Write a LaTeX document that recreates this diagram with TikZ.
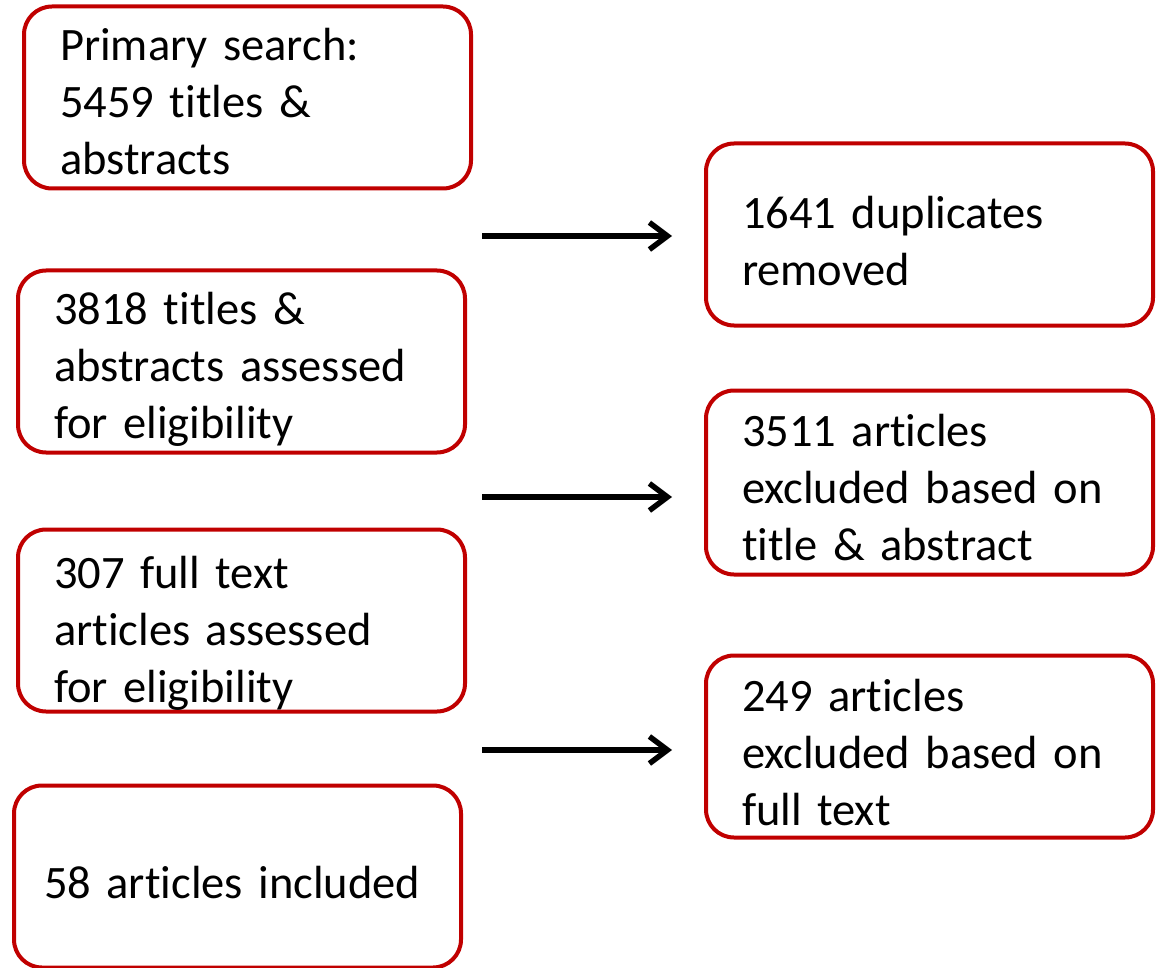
\documentclass[tikz,border=0pt]{standalone}
\usepackage{fontspec}
\setmainfont[Ligatures=NoCommon]{Carlito}
\usepackage{xcolor}
\usepackage{tikz}
\usetikzlibrary{arrows.meta}
\usetikzlibrary{positioning}
\definecolor{boxred}{RGB}{192,0,0}
\tikzstyle{stagebox} = [rectangle, draw=boxred, line width=4pt, rounded corners=28pt,
    text width=375pt, align=left, minimum width=447pt, minimum height=182pt,
    inner xsep=36pt, inner ysep=0pt, font=\fontsize{46.5}{57}\selectfont]
\tikzstyle{line} = [draw, -{Straight Barb[length=18pt,width=27pt]}, line width=5.5pt]
\tikzset{textdown/.style={execute at begin node={\rule{0pt}{\dimexpr 35pt+#1\relax}}}}

\begin{document}
\begin{tikzpicture}[x=1pt, y=-1pt, node distance = 78pt, auto]
    \useasboundingbox (0,0) rectangle (1159,968);
    % Place nodes
    \node [stagebox, textdown=6pt] (search) at (247.5,97.5) {Primary search:\\ 5459 titles \&\\ abstracts};
    \node [stagebox, textdown=12pt, below=78pt of search, xshift=-6pt] (screen) {3818 titles \&\\ abstracts assessed\\ for eligibility};
    \node [stagebox, textdown=22pt, below=73pt of screen] (fulltext) {307 full text\\ articles assessed\\ for eligibility};
    \node [stagebox, textdown=10pt, below=70pt of fulltext, xshift=-4pt, text width=387pt, inner xsep=30pt] (incl) {58 articles included};
    \node [stagebox, textdown=10pt, below right=-49pt and 231pt of search] (dupl) {1641 duplicates\\ removed};
    \node [stagebox, textdown=8pt, below=61pt of dupl, minimum height=184pt] (exclta) {3511 articles\\ excluded based on\\ title \& abstract};
    \node [stagebox, textdown=10pt, below=77pt of exclta] (exclft) {249 articles\\ excluded based on\\ full text};
    % Arrow ends
    \coordinate (a1) at (482,236);
    \coordinate (b1) at (672,236);
    \coordinate (a2) at (482,497);
    \coordinate (b2) at (672,497);
    \coordinate (a3) at (482,750);
    \coordinate (b3) at (672,750);
    % Draw edges
    \path [line] (a1) -- (b1);
    \path [line] (a2) -- (b2);
    \path [line] (a3) -- (b3);
\end{tikzpicture}
\end{document}
